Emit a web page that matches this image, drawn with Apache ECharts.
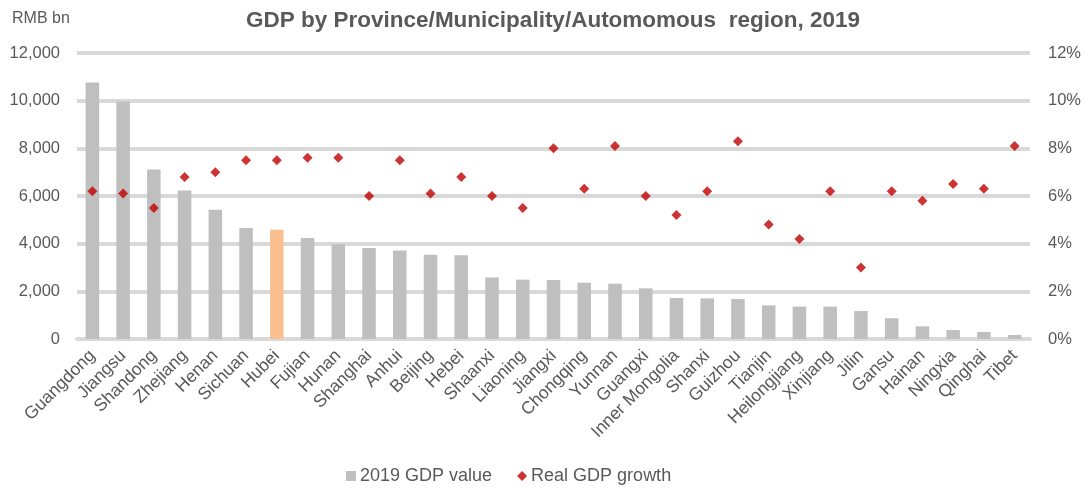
<!DOCTYPE html>
<html><head><meta charset="utf-8">
<script src="https://cdn.jsdelivr.net/npm/echarts@6/dist/echarts.min.js"></script>
<style>html,body{margin:0;padding:0;background:#fff}#c{width:1085px;height:492px}</style>
</head><body><div id="c"></div>
<script>
const categories = ["Guangdong","Jiangsu","Shandong","Zhejiang","Henan","Sichuan","Hubei","Fujian","Hunan","Shanghai","Anhui","Beijing","Hebei","Shaanxi","Liaoning","Jiangxi","Chongqing","Yunnan","Guangxi","Inner Mongolia","Shanxi","Guizhou","Tianjin","Heilongjiang","Xinjiang","Jilin","Gansu","Hainan","Ningxia","Qinghai","Tibet"];
const gdpValue = [10767,9963,7107,6235,5426,4662,4583,4240,3975,3816,3711,3537,3510,2580,2491,2476,2361,2322,2124,1721,1703,1677,1410,1361,1360,1173,872,531,375,297,170];
const realGrowth = [6.2,6.1,5.5,6.8,7.0,7.5,7.5,7.6,7.6,6.0,7.5,6.1,6.8,6.0,5.5,8.0,6.3,8.1,6.0,5.2,6.2,8.3,4.8,4.2,6.2,3.0,6.2,5.8,6.5,6.3,8.1];
const highlight = "Hubei";

const txt = '#595959';
const font = 'Liberation Sans, Arial, sans-serif';
const chart = echarts.init(document.getElementById('c'));
chart.setOption({
  animation: false,
  textStyle: {fontFamily: font},
  title: {text: 'GDP by Province/Municipality/Automomous  region, 2019', left: 548, top: 4, textAlign: 'center',
    textStyle: {fontSize: 22.5, fontWeight: 'bold', color: txt, fontFamily: font}},
  legend: {bottom: 2, left: 341, itemGap: 25, itemWidth: 10, itemHeight: 10,
    textStyle: {fontSize: 18, color: txt, fontFamily: font, padding: [0, 0, 0, -1]},
    data: [{name: '2019 GDP value', icon: 'rect'}, {name: 'Real GDP growth', icon: 'diamond'}]},
  grid: {left: 77, right: 55, top: 53, bottom: 153},
  xAxis: {type: 'category', data: categories,
    axisLine: {lineStyle: {color: '#d9d9d9', width: 4}}, axisTick: {show: false},
    axisLabel: {rotate: 45, interval: 0, fontSize: 17.5, color: txt, margin: 14, fontFamily: font}},
  yAxis: [
    {type: 'value', min: 0, max: 12000, interval: 2000, name: 'RMB bn', nameLocation: 'end',
     nameGap: 26, nameTextStyle: {fontSize: 16, color: txt, align: 'left', padding: [0, 0, 0, -65]},
     axisLine: {show: false}, axisTick: {show: false},
     axisLabel: {fontSize: 16.5, color: txt, margin: 17, formatter: v => v.toLocaleString('en-US')},
     splitLine: {lineStyle: {color: '#d9d9d9', width: 4}}},
    {type: 'value', min: 0, max: 12, interval: 2, position: 'right',
     axisLine: {show: false}, axisTick: {show: false}, splitLine: {show: false},
     axisLabel: {fontSize: 16.5, color: txt, margin: 18, formatter: v => v + '%'}}
  ],
  series: [
    {name: '2019 GDP value', type: 'bar', barWidth: '44%', itemStyle: {color: '#bfbfbf'},
     data: gdpValue.map((v, i) => categories[i] === highlight ? {value: v, itemStyle: {color: '#fac090'}} : v)},
    {name: 'Real GDP growth', type: 'scatter', yAxisIndex: 1, symbol: 'diamond', symbolSize: 10,
     itemStyle: {color: '#c00000'}, data: realGrowth}
  ]
});
</script></body></html>
